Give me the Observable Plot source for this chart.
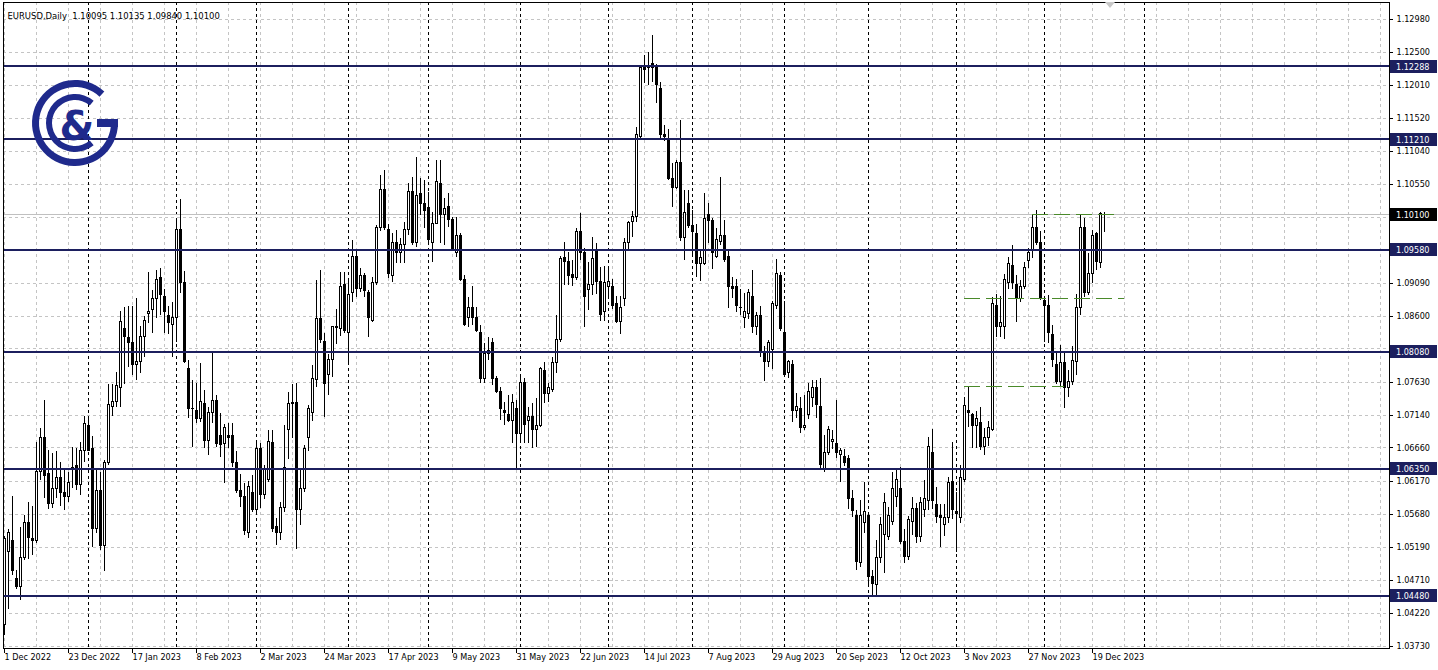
<!DOCTYPE html>
<html>
<head>
<meta charset="utf-8">
<script src="https://cdn.jsdelivr.net/npm/d3@7"></script>
<script src="https://cdn.jsdelivr.net/npm/@observablehq/plot@0.6"></script>
<style>
  html, body { margin: 0; padding: 0; background: #ffffff; }
  #chart { width: 1438px; height: 670px; overflow: hidden; }
  #chart svg { display: block; }
</style>
</head>
<body>
<div id="chart"></div>
<script>
// ---------- DATA (EURUSD daily, 1 Dec 2022 – 22 Dec 2023, one entry per bar) ----------
const title = "EURUSD,Daily  1.10095 1.10135 1.09840 1.10100";

const open = [
  1.0404,1.0512,1.0528,1.0472,1.0460,1.0503,1.0555,1.0532,1.0528,1.0630,1.0681,1.0627,1.0583,1.0606,1.0622,1.0600,1.0593,1.0634,1.0639,1.0611,1.0661,
  1.0698,1.0665,1.0547,1.0603,1.0521,1.0643,1.0727,1.0733,1.0754,1.0841,1.0828,1.0821,1.0789,1.0792,1.0829,1.0864,1.0869,1.0885,1.0916,1.0889,1.0861,1.0847,
  1.0858,1.0988,1.0909,1.0782,1.0724,1.0721,1.0709,1.0731,1.0676,1.0718,1.0735,1.0684,1.0671,1.0684,1.0684,1.0643,1.0602,1.0593,1.0541,1.0600,
  1.0574,1.0665,1.0596,1.0618,1.0673,1.0549,1.0540,1.0577,1.0692,1.0730,1.0732,1.0574,1.0606,1.0681,1.0717,1.0766,1.0856,1.0822,1.0773,1.0795,1.0843,1.0842,1.0906,
  1.0835,1.0894,1.0947,1.0901,1.0919,1.0894,1.0853,1.0909,1.0991,1.1046,1.0987,1.0919,1.0969,1.0953,1.0966,1.0988,1.1044,1.0969,1.1040,1.1026,
  1.1020,1.0968,1.0997,1.1056,1.1010,1.1021,1.1002,1.0953,1.0979,1.0914,1.0858,1.0873,1.0858,1.0836,1.0768,1.0805,1.0820,1.0767,1.0748,1.0721,1.0714,1.0705,1.0723,
  1.0687,1.0761,1.0706,1.0712,1.0692,1.0698,1.0780,1.0746,1.0751,1.0791,1.0825,1.0946,1.0940,1.0921,1.0916,1.0985,1.0954,1.0899,1.0906,1.0955,1.0910,1.0866,
  1.0904,1.0903,1.0879,1.0851,1.0886,1.0968,1.0999,1.1006,1.1124,1.1226,1.1226,1.1232,1.1226,1.1196,1.1127,1.1121,1.1063,1.1049,1.1086,1.0976,1.1026,
  1.0994,1.0981,1.0937,1.0938,1.1010,1.1000,1.0947,1.0970,1.0979,1.0948,1.0903,1.0903,1.0873,1.0857,1.0864,1.0888,1.0844,1.0861,1.0807,1.0793,1.0810,1.0876,1.0919,
  1.0836,1.0776,1.0789,1.0721,1.0723,1.0696,1.0714,1.0740,1.0754,1.0727,1.0633,1.0658,1.0674,1.0671,1.0656,1.0653,1.0650,1.0590,1.0565,1.0496,1.0555,
  1.0565,1.0476,1.0463,1.0503,1.0537,1.0534,1.0556,1.0593,1.0606,1.0527,1.0505,1.0556,1.0576,1.0534,1.0574,1.0588,1.0659,1.0581,1.0566,1.0552,1.0562,1.0615,
  1.0571,1.0562,1.0618,1.0721,1.0714,1.0699,1.0702,1.0667,1.0681,1.0692,1.0876,1.0844,1.0844,1.0909,1.0935,1.0906,1.0885,1.0903,1.0941,1.0958,1.0990,1.0968,
  1.0883,1.0876,1.0833,1.0789,1.0763,1.0791,1.0754,1.0763,1.0792,1.0872,1.0990,1.0895,1.0923,1.0981,1.0939,1.10095
];
const high = [
  1.0535,1.0545,1.0594,1.0485,1.0549,1.0566,1.0586,1.0580,1.0674,1.0695,1.0736,1.0662,1.0658,1.0660,1.0645,1.0636,1.0630,1.0667,1.0665,1.0674,1.0713,
  1.0713,1.0683,1.0633,1.0630,1.0648,1.0760,1.0760,1.0777,1.0867,1.0873,1.0875,1.0874,1.0887,1.0845,1.0860,1.0925,1.0898,1.0928,1.0930,1.0899,1.0875,1.0880,
  1.1003,1.1033,1.0926,1.0795,1.0766,1.0761,1.0791,1.0751,1.0725,1.0805,1.0743,1.0717,1.0700,1.0702,1.0702,1.0661,1.0627,1.0613,1.0616,1.0625,
  1.0673,1.0673,1.0640,1.0692,1.0692,1.0562,1.0585,1.0699,1.0748,1.0760,1.0761,1.0635,1.0670,1.0728,1.0788,1.0913,1.0928,1.0835,1.0804,1.0845,1.0870,1.0925,1.0925,
  1.0915,1.0972,1.0958,1.0931,1.0923,1.0898,1.0917,1.0994,1.1068,1.1075,1.0995,1.0982,1.0987,1.0975,1.0998,1.1056,1.1065,1.1094,1.1063,1.1061,
  1.1043,1.1013,1.1090,1.1090,1.1034,1.1041,1.1006,1.1006,1.0982,1.0920,1.0888,1.0904,1.0873,1.0847,1.0820,1.0829,1.0827,1.0772,1.0755,1.0733,1.0743,1.0745,1.0736,
  1.0770,1.0768,1.0725,1.0731,1.0739,1.0785,1.0792,1.0761,1.0799,1.0862,1.0948,1.0969,1.0954,1.0943,1.0990,1.1012,1.0960,1.0940,1.0976,1.0968,1.0932,1.0934,
  1.0930,1.0915,1.0890,1.0890,1.0975,1.1000,1.1015,1.1139,1.1230,1.1245,1.1250,1.1275,1.1232,1.1205,1.1142,1.1135,1.1085,1.1090,1.1149,1.1045,1.1045,
  1.1016,1.0995,1.0955,1.1041,1.1026,1.1005,1.0990,1.1065,1.1001,1.0958,1.0917,1.0915,1.0900,1.0894,1.0900,1.0928,1.0865,1.0875,1.0815,1.0825,1.0882,1.0944,1.0925,
  1.0882,1.0795,1.0795,1.0746,1.0741,1.0743,1.0761,1.0766,1.0765,1.0768,1.0684,1.0698,1.0692,1.0736,1.0665,1.0664,1.0655,1.0603,1.0573,1.0588,1.0615,
  1.0568,1.0485,1.0529,1.0563,1.0598,1.0578,1.0630,1.0633,1.0637,1.0545,1.0565,1.0593,1.0584,1.0593,1.0618,1.0682,1.0693,1.0608,1.0582,1.0583,1.0622,1.0674,
  1.0600,1.0640,1.0740,1.0755,1.0716,1.0720,1.0725,1.0695,1.0705,1.0888,1.0892,1.0890,1.0922,1.0947,1.0965,1.0920,1.0913,1.0940,1.0960,1.1009,1.1016,1.0985,
  1.0890,1.0891,1.0847,1.0807,1.0817,1.0805,1.0780,1.0815,1.0893,1.1009,1.1005,1.0953,1.0987,1.0984,1.1013,1.10135
];
const low = [
  1.0389,1.0427,1.0478,1.0457,1.0441,1.0500,1.0501,1.0507,1.0525,1.0618,1.0591,1.0575,1.0577,1.0591,1.0580,1.0573,1.0586,1.0606,1.0603,1.0596,1.0645,
  1.0660,1.0519,1.0540,1.0515,1.0483,1.0640,1.0713,1.0725,1.0726,1.0760,1.0785,1.0773,1.0766,1.0776,1.0799,1.0850,1.0835,1.0857,1.0861,1.0835,1.0833,1.0799,
  1.0822,1.0894,1.0790,1.0710,1.0667,1.0702,1.0703,1.0665,1.0655,1.0702,1.0667,1.0652,1.0614,1.0665,1.0637,1.0599,1.0578,1.0537,1.0532,1.0570,
  1.0570,1.0577,1.0590,1.0615,1.0541,1.0522,1.0530,1.0570,1.0649,1.0680,1.0516,1.0552,1.0600,1.0660,1.0705,1.0755,1.0820,1.0711,1.0743,1.0770,1.0819,1.0830,1.0835,
  1.0788,1.0880,1.0888,1.0895,1.0888,1.0829,1.0851,1.0906,1.0985,1.0987,1.0916,1.0910,1.0938,1.0938,1.0938,1.0980,1.0965,1.0962,1.1009,1.0990,
  1.0966,1.0940,1.0995,1.0968,1.0965,1.0991,1.0955,1.0947,1.0912,1.0845,1.0844,1.0847,1.0836,1.0761,1.0761,1.0795,1.0758,1.0746,1.0706,1.0699,1.0703,1.0673,1.0636,
  1.0673,1.0673,1.0673,1.0665,1.0667,1.0696,1.0731,1.0733,1.0748,1.0775,1.0822,1.0906,1.0906,1.0904,1.0913,1.0943,1.0844,1.0868,1.0891,1.0893,1.0853,1.0852,
  1.0888,1.0870,1.0850,1.0833,1.0875,1.0957,1.0976,1.0998,1.1120,1.1204,1.1200,1.1205,1.1174,1.1120,1.1118,1.1060,1.1021,1.1047,1.0971,1.0943,1.0990,
  1.0947,1.0917,1.0911,1.0935,1.0968,1.0929,1.0945,1.0965,1.0940,1.0872,1.0886,1.0865,1.0862,1.0842,1.0855,1.0835,1.0832,1.0800,1.0764,1.0785,1.0782,1.0870,1.0838,
  1.0771,1.0768,1.0703,1.0710,1.0687,1.0692,1.0708,1.0725,1.0710,1.0633,1.0630,1.0655,1.0664,1.0650,1.0615,1.0638,1.0575,1.0563,1.0485,1.0490,1.0540,
  1.0462,1.0448,1.0448,1.0495,1.0481,1.0529,1.0552,1.0578,1.0524,1.0496,1.0500,1.0537,1.0525,1.0527,1.0563,1.0574,1.0575,1.0555,1.0519,1.0535,1.0555,1.0560,
  1.0512,1.0555,1.0615,1.0696,1.0665,1.0665,1.0662,1.0655,1.0668,1.0690,1.0829,1.0829,1.0826,1.0900,1.0900,1.0851,1.0880,1.0900,1.0930,1.0945,1.0965,1.0884,
  1.0822,1.0820,1.0785,1.0760,1.0755,1.0724,1.0740,1.0758,1.0773,1.0862,1.0888,1.0891,1.0909,1.0928,1.0930,1.09840
];
const close = [
  1.0532,1.0540,1.0484,1.0460,1.0503,1.0555,1.0533,1.0528,1.0630,1.0681,1.0625,1.0583,1.0606,1.0622,1.0600,1.0593,1.0614,1.0637,1.0611,1.0661,1.0701,
  1.0662,1.0547,1.0603,1.0521,1.0643,1.0729,1.0733,1.0757,1.0851,1.0830,1.0821,1.0789,1.0793,1.0829,1.0853,1.0867,1.0885,1.0914,1.0891,1.0866,1.0850,1.0858,
  1.0988,1.0909,1.0792,1.0724,1.0723,1.0709,1.0733,1.0676,1.0718,1.0735,1.0671,1.0670,1.0695,1.0681,1.0643,1.0603,1.0593,1.0544,1.0608,1.0574,
  1.0665,1.0596,1.0633,1.0674,1.0547,1.0541,1.0578,1.0637,1.0730,1.0732,1.0574,1.0606,1.0665,1.0723,1.0768,1.0856,1.0825,1.0760,1.0796,1.0844,1.0845,1.0904,1.0839,
  1.0892,1.0947,1.0901,1.0919,1.0898,1.0858,1.0909,1.0991,1.1046,1.0991,1.0923,1.0969,1.0953,1.0966,1.0988,1.1044,1.0969,1.1038,1.1026,1.1015,
  1.0972,1.0997,1.1058,1.1010,1.1018,1.1002,1.0957,1.0979,1.0913,1.0847,1.0873,1.0858,1.0838,1.0768,1.0805,1.0809,1.0768,1.0748,1.0724,1.0718,1.0705,1.0732,1.0687,
  1.0761,1.0700,1.0712,1.0692,1.0698,1.0782,1.0746,1.0755,1.0791,1.0825,1.0944,1.0940,1.0919,1.0916,1.0984,1.0953,1.0888,1.0906,1.0945,1.0910,1.0862,1.0909,
  1.0910,1.0876,1.0851,1.0873,1.0968,1.0998,1.1006,1.1127,1.1226,1.1223,1.1230,1.1227,1.1201,1.1127,1.1124,1.1063,1.1049,1.1086,1.0976,1.1013,1.0994,
  1.0984,1.0938,1.0946,1.1003,1.1000,1.0954,1.0973,1.0979,1.0943,1.0903,1.0901,1.0876,1.0872,1.0866,1.0894,1.0844,1.0861,1.0807,1.0792,1.0820,1.0879,1.0922,1.0842,
  1.0773,1.0792,1.0721,1.0726,1.0695,1.0699,1.0749,1.0754,1.0729,1.0640,1.0659,1.0692,1.0678,1.0658,1.0661,1.0643,1.0591,1.0573,1.0497,1.0565,1.0571,
  1.0475,1.0465,1.0503,1.0552,1.0584,1.0566,1.0606,1.0618,1.0527,1.0505,1.0559,1.0576,1.0534,1.0584,1.0591,1.0667,1.0588,1.0564,1.0562,1.0563,1.0614,1.0574,
  1.0569,1.0621,1.0728,1.0717,1.0699,1.0708,1.0667,1.0681,1.0696,1.0878,1.0844,1.0850,1.0913,1.0938,1.0909,1.0886,1.0903,1.0932,1.0953,1.0991,1.0968,1.0886,
  1.0876,1.0835,1.0795,1.0763,1.0791,1.0754,1.0763,1.0794,1.0873,1.0991,1.0894,1.0923,1.0979,1.0940,1.1011,1.10100
];

// x-axis labels (every 16th bar) and the bar index they sit on
const xLabels = ["1 Dec 2022","23 Dec 2022","17 Jan 2023","8 Feb 2023","2 Mar 2023","24 Mar 2023","17 Apr 2023","9 May 2023","31 May 2023",
                 "22 Jun 2023","14 Jul 2023","7 Aug 2023","29 Aug 2023","20 Sep 2023","12 Oct 2023","3 Nov 2023","27 Nov 2023","19 Dec 2023"];
const xLabelBars = [0,16,32,48,64,80,96,112,128,144,160,176,192,208,224,240,256,272];
// first bar of each month (period separators); the last one is in the empty future area
const monthStartBars = [21,43,63,86,106,129,151,172,195,216,238,260,285];
// light vertical grid: every 8 bars
const gridBars = d3.range(0, 345, 8);
// price scale grid ticks, and the ones whose label is covered by a price tag
const yTicks = [1.12980,1.12500,1.12010,1.11520,1.11040,1.10550,1.10060,1.09580,1.09090,1.08600,1.08120,
                1.07630,1.07140,1.06660,1.06170,1.05680,1.05190,1.04710,1.04220,1.03730];
const yTicksCovered = [1.10060,1.09580,1.08120];
// navy support / resistance lines
const levels = [1.12288,1.11210,1.09580,1.08080,1.06350,1.04480];
const bidPrice = 1.10100;
// green dashed trend levels: value, first bar, last bar
const greenValue = [1.1010, 1.0886, 1.0757];
const greenFrom  = [257, 240, 240];
const greenTo    = [279, 280, 265];

// ---------- BUILD ----------
const FONT = "'DejaVu Sans Condensed','DejaVu Sans',sans-serif";
const NAVY = "#1c1f5e";
const GREEN = "#4a8a2a";
const candles = open.map((o, i) => ({i, o, h: high[i], l: low[i], c: close[i]}));
const bull = candles.filter(d => d.c >= d.o);
const bear = candles.filter(d => d.c < d.o);
const green = greenValue.map((v, k) => ({v, s: greenFrom[k], e: greenTo[k]}));
const xTicks = xLabels.map((t, k) => ({t, i: xLabelBars[k]}));
const yLabelTicks = yTicks.filter(v => !yTicksCovered.includes(v));
const crisp = "crispEdges";

const chart = Plot.plot({
  width: 1438, height: 670,
  marginLeft: 3, marginRight: 49, marginTop: 2, marginBottom: 22,
  x: {domain: [-0.25, 346.25], axis: null},
  y: {domain: [1.03700, 1.13231], axis: null},
  style: {background: "#ffffff", fontFamily: FONT, fontSize: "9px", color: "#000", overflow: "visible"},
  marks: [
    Plot.ruleY(yTicks, {stroke: "#c4c4c4", strokeDasharray: "3,3", shapeRendering: crisp}),
    Plot.ruleX(gridBars, {stroke: "#c4c4c4", strokeDasharray: "3,3", shapeRendering: crisp}),
    Plot.ruleX(monthStartBars, {stroke: "#000", strokeDasharray: "3,3", shapeRendering: crisp}),
    Plot.ruleY([bidPrice], {stroke: "#c0c0c0", shapeRendering: crisp}),
    Plot.ruleX(candles, {x: "i", y1: "l", y2: "h", stroke: "#000", shapeRendering: crisp}),
    Plot.rect(bull, {x1: d => d.i - 0.25, x2: d => d.i + 0.25, y1: "o", y2: "c", fill: "#fff", stroke: "#000", shapeRendering: crisp}),
    Plot.rect(bear, {x1: d => d.i - 0.25, x2: d => d.i + 0.25, y1: "o", y2: "c", fill: "#000", stroke: "#000", shapeRendering: crisp}),
    Plot.ruleY(levels, {stroke: NAVY, strokeWidth: 2, shapeRendering: crisp}),
    Plot.ruleY(green, {y: "v", x1: "s", x2: "e", stroke: GREEN, strokeDasharray: "16,6", shapeRendering: crisp}),
    Plot.frame({stroke: "#000", shapeRendering: crisp}),
    Plot.text(yLabelTicks, {y: d => d, text: d => d.toFixed(5), frameAnchor: "right", dx: 7, textAnchor: "start", fill: "#000"}),
    Plot.text(xTicks, {x: "i", text: "t", frameAnchor: "bottom", dy: 11, dx: 0, textAnchor: "start", fill: "#000"}),
    Plot.text([title], {frameAnchor: "top-left", dx: 4, dy: 9.5, textAnchor: "start", fill: "#000", fontSize: 9.4})
  ]
});
document.getElementById("chart").appendChild(chart);

// ---------- decorations positioned through Plot's own scales ----------
const svg = d3.select(chart);
const xs = chart.scale("x"), ys = chart.scale("y");
const right = 1389, bottom = 648;

// small ticks on the price axis
svg.append("g").attr("shape-rendering", crisp).selectAll("line").data(yTicks).join("line")
  .attr("x1", right).attr("x2", right + 4)
  .attr("y1", d => Math.round(ys.apply(d)) + 0.5).attr("y2", d => Math.round(ys.apply(d)) + 0.5)
  .attr("stroke", "#000");
// small ticks on the time axis
svg.append("g").attr("shape-rendering", crisp).selectAll("line").data(xLabelBars).join("line")
  .attr("x1", d => Math.round(xs.apply(d)) + 0.5).attr("x2", d => Math.round(xs.apply(d)) + 0.5)
  .attr("y1", bottom).attr("y2", bottom + 5)
  .attr("stroke", "#000");

// price tags for the levels and the bid
const tags = levels.map(v => ({v, fill: NAVY})).concat([{v: bidPrice, fill: "#000"}]);
const tg = svg.append("g").attr("font-family", FONT).attr("font-size", 9).attr("text-anchor", "start");
tags.forEach(t => {
  const y = Math.round(ys.apply(t.v));
  tg.append("rect").attr("x", right + 1).attr("y", y - 6).attr("width", 47).attr("height", 13).attr("fill", t.fill);
  tg.append("text").attr("x", right + 7).attr("y", y + 0.5).attr("dy", "0.35em").attr("fill", "#fff")
    .attr("text-anchor", "start").text(t.v.toFixed(5));
});

// shift marker at the top
svg.append("path").attr("d", "M1105,2L1115,2L1110,8Z").attr("fill", "#c8c8c8");

// logo
const LOGO = "#1f2a8c";
const lg = svg.append("g").attr("transform", "translate(75,123)").attr("fill", LOGO);
const deg = Math.PI / 180;
lg.append("path").attr("d", d3.arc()({innerRadius: 36, outerRadius: 43, startAngle: 90 * deg, endAngle: 403 * deg}));
lg.append("rect").attr("x", 22).attr("y", -4).attr("width", 21).attr("height", 8);
lg.append("path").attr("d", d3.arc()({innerRadius: 23, outerRadius: 29, startAngle: 140 * deg, endAngle: 400 * deg}));
lg.append("text").attr("x", 2).attr("y", 3).attr("text-anchor", "middle").attr("dy", "0.36em")
  .attr("font-family", "'DejaVu Sans',sans-serif").attr("font-weight", "bold").attr("font-size", 40).text("&");

svg.selectAll("text").style("white-space", "pre");
</script>
</body>
</html>
